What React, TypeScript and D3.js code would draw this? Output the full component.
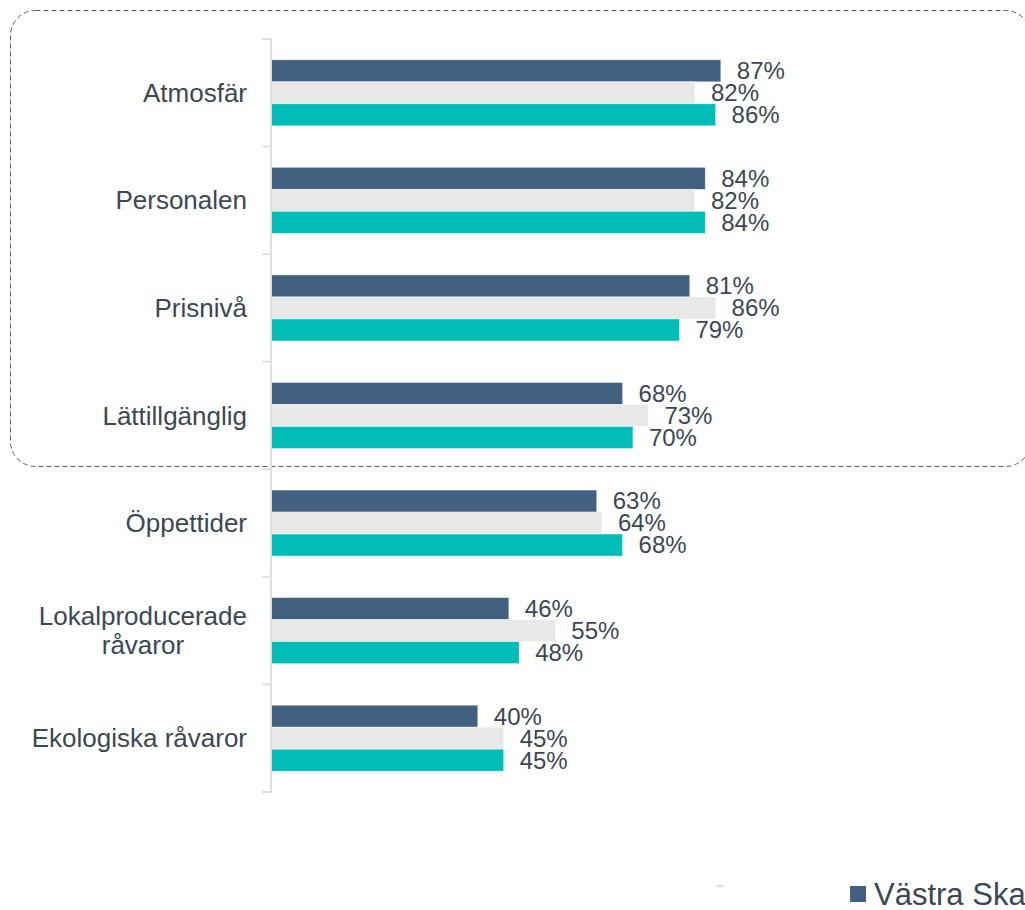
import React, { useEffect, useRef } from "react";
import * as d3 from "d3";

const categories = [
  "Atmosfär",
  "Personalen",
  "Prisnivå",
  "Lättillgänglig",
  "Öppettider",
  "Lokalproducerade\nråvaror",
  "Ekologiska råvaror",
];
const seriesNames = ["Västra Skaraborg", "Totalt", "Riket"];
const seriesA = [87, 84, 81, 68, 63, 46, 40];
const seriesB = [82, 82, 86, 73, 64, 55, 45];
const seriesC = [86, 84, 79, 70, 68, 48, 45];
const colors = ["#426180", "#e8e8e8", "#00bdb8"];

const W = 1025;
const H = 910;

const App = () => {
  const ref = useRef<SVGSVGElement | null>(null);

  useEffect(() => {
    const svg = d3.select(ref.current);
    svg.selectAll("*").remove();
    const font = "'Liberation Sans', Arial, sans-serif";
    const textColor = "#3b4754";

    const axisX = 271;
    const x = d3.scaleLinear().domain([0, 100]).range([axisX, axisX + 517]);
    const y = d3.scaleBand<string>().domain(categories).range([39, 792]).padding(0);
    const inner = d3
      .scaleBand<number>()
      .domain([0, 1, 2])
      .range([0, y.bandwidth()])
      .paddingInner(0)
      .paddingOuter(0.945);

    // dashed highlight frame
    svg
      .append("rect")
      .attr("x", 10.5)
      .attr("y", 10.5)
      .attr("width", 1020)
      .attr("height", 456)
      .attr("rx", 25)
      .attr("fill", "none")
      .attr("stroke", "#555e68")
      .attr("stroke-width", 1)
      .attr("stroke-dasharray", "5,3");

    const values = [seriesA, seriesB, seriesC];
    const rows = categories.map((c, i) => ({ cat: c, vals: values.map((s) => s[i]) }));

    const g = svg.append("g");
    const grp = g
      .selectAll("g.grp")
      .data(rows)
      .join("g")
      .attr("class", "grp")
      .attr("transform", (d) => `translate(0,${y(d.cat)})`);

    grp
      .selectAll("rect")
      .data((d) => d.vals)
      .join("rect")
      .attr("x", x(0))
      .attr("y", (_d, i) => inner(i)!)
      .attr("width", (d) => x(d) - x(0))
      .attr("height", inner.bandwidth())
      .attr("fill", (_d, i) => colors[i])
      .attr("stroke", "#ffffff")
      .attr("stroke-opacity", 0.5)
      .attr("stroke-width", 0.8);

    grp
      .selectAll("text")
      .data((d) => d.vals)
      .join("text")
      .attr("x", (d) => x(d) + 16)
      .attr("y", (_d, i) => inner(i)! + inner.bandwidth() / 2)
      .attr("dy", "0.35em")
      .attr("font-family", font)
      .attr("font-size", 24)
      .attr("fill", textColor)
      .text((d) => `${d}%`);

    // y axis
    const axis = svg.append("g");
    axis
      .append("line")
      .attr("x1", axisX)
      .attr("x2", axisX)
      .attr("y1", 39)
      .attr("y2", 792)
      .attr("stroke", "#dde1e6")
      .attr("stroke-width", 2);
    const tickYs = categories.map((c) => y(c)!).concat([792]);
    axis
      .selectAll("line.tick")
      .data(tickYs)
      .join("line")
      .attr("class", "tick")
      .attr("x1", axisX - 9)
      .attr("x2", axisX)
      .attr("y1", (d) => d)
      .attr("y2", (d) => d)
      .attr("stroke", "#dde1e6")
      .attr("stroke-width", 2);

    // category labels
    const labelRight = 247;
    categories.forEach((c) => {
      const lines = c.split("\n");
      const cy = y(c)! + y.bandwidth() / 2;
      const lh = 29;
      const t = axis
        .append("text")
        .attr("font-family", font)
        .attr("font-size", 26)
        .attr("fill", textColor)
        .attr("text-anchor", lines.length > 1 ? "middle" : "end");
      const spans = lines.map((l, i) =>
        t
          .append("tspan")
          .attr("y", cy + (i - (lines.length - 1) / 2) * lh)
          .attr("dy", "0.35em")
          .text(l)
      );
      if (lines.length > 1) {
        const wMax = d3.max(spans, (s) => (s.node() as SVGTSpanElement).getComputedTextLength()) || 0;
        spans.forEach((s) => s.attr("x", labelRight - wMax / 2));
      } else {
        spans.forEach((s) => s.attr("x", labelRight));
      }
    });

    // stray tick near legend
    svg
      .append("line")
      .attr("x1", 716)
      .attr("x2", 724)
      .attr("y1", 886)
      .attr("y2", 886)
      .attr("stroke", "#dde1e6")
      .attr("stroke-width", 2);

    // legend (cut off by the right edge)
    const lg = svg.append("g").attr("transform", "translate(850,894)");
    lg.append("rect")
      .attr("x", 0)
      .attr("y", -8)
      .attr("width", 16)
      .attr("height", 16)
      .attr("fill", colors[0]);
    lg.append("text")
      .attr("x", 24)
      .attr("dy", "0.35em")
      .attr("font-family", font)
      .attr("font-size", 31)
      .attr("fill", textColor)
      .text(seriesNames[0]);
  }, []);

  return (
    <svg
      ref={ref}
      width={W}
      height={H}
      style={{ position: "absolute", left: 0, top: 0, background: "#ffffff" }}
    />
  );
};

export default App;
